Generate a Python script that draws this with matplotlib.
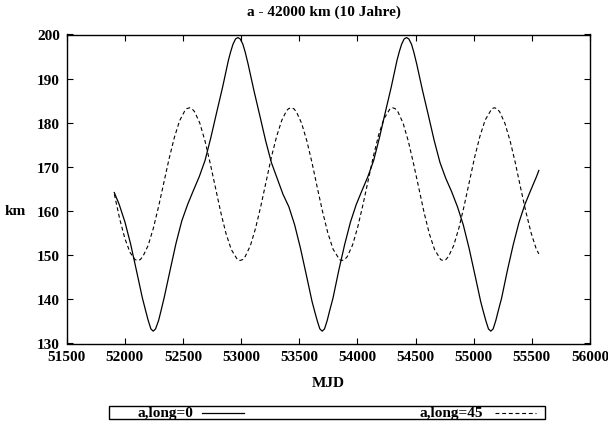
import matplotlib
matplotlib.use("Agg")
import matplotlib.pyplot as plt
from matplotlib.lines import Line2D
from matplotlib.patches import Rectangle

title = "a - 42000 km (10 Jahre)"
xlabel = "MJD"
ylabel = "km"
legend_labels = ["a,long=0", "a,long=45"]
xticks = [51500, 52000, 52500, 53000, 53500, 54000, 54500, 55000, 55500, 56000]
yticks = [130, 140, 150, 160, 170, 180, 190, 200]

mjd_long0 = [51909, 51950, 52000, 52050, 52100, 52150, 52180, 52200, 52224, 52244,
             52264, 52290, 52310, 52340, 52390, 52440, 52490, 52540, 52590, 52640,
             52690, 52740, 52790, 52840, 52890, 52910, 52930, 52952, 52972, 52992,
             53015, 53035, 53060, 53110, 53160, 53210, 53260, 53310, 53360, 53410,
             53460, 53510, 53560, 53610, 53633, 53655, 53677, 53697, 53717, 53740,
             53760, 53790, 53840, 53890, 53940, 53990, 54040, 54090, 54140, 54190,
             54240, 54290, 54340, 54360, 54380, 54402, 54422, 54442, 54465, 54485,
             54510, 54560, 54610, 54660, 54710, 54760, 54810, 54860, 54910, 54960,
             55010, 55060, 55083, 55105, 55127, 55147, 55167, 55190, 55210, 55240,
             55290, 55340, 55390, 55440, 55490, 55540, 55560]
km_long0 = [164.2, 161.6, 157.6, 152.5, 146.5, 140.4, 137.3, 135.3, 133.3, 132.8,
            133.3, 135.2, 137.3, 140.6, 146.7, 152.7, 157.8, 161.5, 164.7, 167.8,
            171.5, 176.7, 182.4, 188.0, 194.1, 196.1, 197.8, 199.0, 199.3, 199.0,
            197.8, 196.0, 193.3, 187.3, 181.7, 176.0, 171.0, 167.4, 163.8, 161.0,
            156.9, 151.6, 145.6, 139.5, 137.2, 135.1, 133.3, 132.8, 133.3, 135.2,
            137.3, 140.3, 146.6, 152.4, 157.5, 161.5, 164.7, 167.8, 171.5, 176.7,
            182.4, 188.0, 194.1, 196.1, 197.8, 199.0, 199.3, 199.0, 197.8, 196.0,
            193.3, 187.3, 181.7, 176.0, 171.0, 167.4, 164.4, 161.0, 156.9, 151.6,
            145.6, 139.5, 137.2, 135.1, 133.3, 132.8, 133.3, 135.2, 137.3, 140.3,
            146.6, 152.4, 157.5, 161.5, 164.7, 167.8, 169.2]

mjd_long45 = [51910, 51955, 52000, 52045, 52088, 52110, 52132, 52155, 52200, 52245,
              52290, 52335, 52380, 52425, 52470, 52515, 52533, 52555, 52577, 52600,
              52645, 52690, 52735, 52780, 52825, 52870, 52915, 52968, 52990, 53012,
              53035, 53080, 53125, 53170, 53215, 53260, 53305, 53350, 53390, 53408,
              53430, 53452, 53475, 53520, 53565, 53610, 53655, 53700, 53745, 53790,
              53846, 53868, 53890, 53913, 53958, 54003, 54048, 54093, 54138, 54183,
              54228, 54281, 54303, 54325, 54348, 54393, 54438, 54483, 54528, 54573,
              54618, 54663, 54716, 54738, 54760, 54783, 54828, 54873, 54918, 54963,
              55008, 55053, 55098, 55156, 55178, 55200, 55223, 55268, 55313, 55358,
              55403, 55448, 55493, 55538, 55560]
km_long45 = [163.8, 158.3, 153.8, 150.6, 149.0, 148.8, 149.0, 149.7, 152.2, 156.1,
             161.0, 166.4, 171.8, 176.6, 180.4, 182.7, 183.2, 183.4, 183.2, 182.5,
             179.9, 175.8, 170.7, 165.2, 159.7, 154.9, 151.3, 149.0, 148.8, 149.0,
             149.7, 152.2, 156.2, 161.2, 166.7, 172.2, 176.9, 180.6, 182.7, 183.2,
             183.4, 183.2, 182.5, 179.9, 175.9, 170.9, 165.3, 159.9, 155.1, 151.4,
             149.0, 148.8, 149.0, 149.7, 152.3, 156.4, 161.5, 167.0, 172.5, 177.3,
             180.9, 183.2, 183.4, 183.2, 182.5, 179.9, 175.8, 170.7, 165.2, 159.7,
             154.9, 151.3, 149.0, 148.8, 149.0, 149.7, 152.2, 156.2, 161.2, 166.7,
             172.2, 176.9, 180.6, 183.2, 183.4, 183.2, 182.5, 179.9, 175.9, 170.9,
             165.3, 159.9, 155.1, 151.4, 150.3]

plt.rcParams['font.family'] = ['Liberation Serif', 'DejaVu Serif']
plt.rcParams['font.weight'] = 'bold'
FS = 11

W, H = 608, 427
fig = plt.figure(figsize=(W / 100, H / 100), dpi=100)
ax = fig.add_axes([66.7 / W, 1 - 344.5 / H, (590 - 66.7) / W, (344.5 - 35.5) / H])

ax.plot(mjd_long0, km_long0, color='black', lw=0.9, solid_joinstyle='round')
ax.plot(mjd_long45, km_long45, color='black', lw=0.8, dashes=(3.5, 2.5))

ax.set_xlim(51500, 56000)
ax.set_ylim(130, 200)
ax.set_xticks(xticks)
ax.set_yticks(yticks)
ax.set_xticklabels([str(v) for v in xticks], fontsize=FS, fontweight='bold')
ax.set_yticklabels([str(v) for v in yticks], fontsize=FS, fontweight='bold')
ax.tick_params(direction='in', length=4, width=0.8, top=True, right=True,
               labeltop=False, labelright=False)
ax.tick_params(axis='x', pad=5)
ax.tick_params(axis='y', pad=5)
for s in ax.spines.values():
    s.set_linewidth(1.0)

fig.text(324 / W, 1 - 12 / H, title, ha='center', va='center', fontsize=FS, fontweight='bold')
fig.text(328 / W, 1 - 384 / H, xlabel, ha='center', va='center', fontsize=FS, fontweight='bold')
fig.text(15 / W, 1 - 212 / H, ylabel, ha='center', va='center', fontsize=FS, fontweight='bold')

# legend box (gnuplot style)
fig.patches.append(Rectangle((109.3 / W, 1 - 420 / H), (545.3 - 109.3) / W, (420 - 407.3) / H,
                             transform=fig.transFigure, fill=False, edgecolor='black', lw=1.0))
ly = 1 - 414 / H
fig.text(193.5 / W, ly, legend_labels[0], ha='right', va='center', fontsize=FS, fontweight='bold')
fig.lines.append(Line2D([201.7 / W, 244 / W], [ly, ly], transform=fig.transFigure,
                        color='black', lw=0.9))
fig.text(483.5 / W, ly, legend_labels[1], ha='right', va='center', fontsize=FS, fontweight='bold')
fig.lines.append(Line2D([495 / W, 536 / W], [ly, ly], transform=fig.transFigure,
                        color='black', lw=0.8, dashes=(3.5, 2.5)))

fig.savefig("out.png", dpi=100)
